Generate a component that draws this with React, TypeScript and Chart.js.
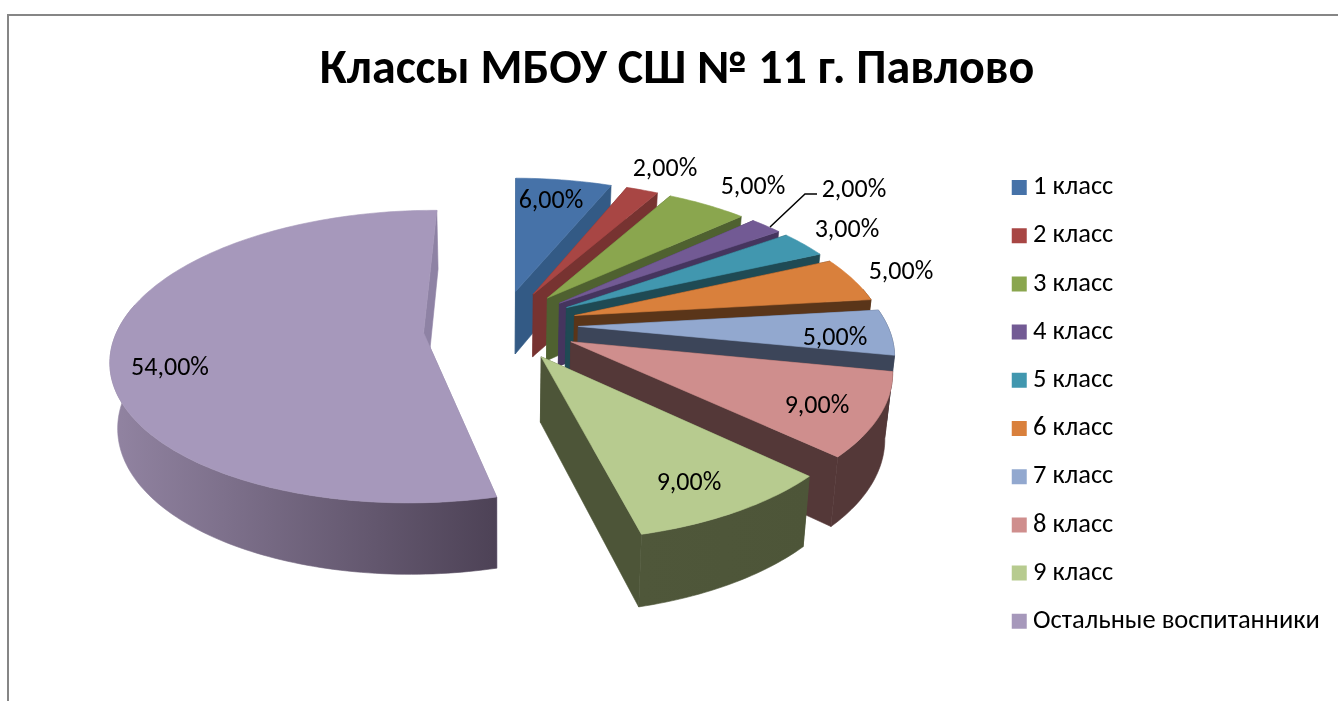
import React, { useEffect, useRef } from "react";
import { Chart, registerables } from "chart.js";

Chart.register(...registerables);

const TITLE = "Классы МБОУ СШ № 11 г. Павлово";
const categories = ["1 класс", "2 класс", "3 класс", "4 класс", "5 класс", "6 класс", "7 класс", "8 класс", "9 класс", "Остальные воспитанники"];
const shares = [6, 2, 5, 2, 3, 5, 5, 9, 9, 54];

const topColors = ["#4672A8", "#A84644", "#8AA64E", "#725A94", "#4197AF", "#D9803C", "#92A8CF", "#CF8E8D", "#B7CB8F", "#A698BB"];
const wallStart = ["#355E8C", "#773331", "#4F6130", "#45355E", "#1F4A54", "#5A3519", "#3C4559", "#543838", "#4F573A", "#9284A2"];
const wallEnd = ["#355E8C", "#773331", "#4F6130", "#45355E", "#1F4A54", "#5A3519", "#3C4559", "#543838", "#4D5538", "#4D4256"];
const radialWall = ["#335A85", "#773331", "#4F6130", "#45355E", "#1F4A54", "#5A3519", "#3C4559", "#543838", "#4D5538", "#8E82A4"];

// where each value label sits on the picture (text centre)
const labelCentres: [number, number][] = [[551, 201], [665, 169], [753, 187], [854, 190], [847, 230], [901, 272], [835, 338], [817, 406], [689, 483], [170, 368]];

// camera of the 3-D pie
const CX = 501, CY = 325, FX = 309, FY = 142, PX = 0.165, PY = 0.164;
const DEPTH = 64, EXPLODE = 0.25, SHRINK = 0.02;
const explodeDrop = [0, 0, 0, 0, 0, 0, 0, 0, 0, 0.025];
const rimScale = [1, 1, 1, 1, 1, 1, 1, 1, 1, 0.985];
const FONT = "Carlito, Lato, 'Open Sans', sans-serif";

const project = (u: number, v: number, z: number): [number, number] => {
  const x = CX + (FX * u) / (1 + PX * v);
  const y = CY - (FY * v) / (1 + PY * v);
  return [CX + (x - CX) * (1 - SHRINK * z), y + (z * DEPTH) / (1 + 0.1 * v)];
};

const pie3d = {
  id: "pie3d",
  afterLayout(chart: any) {
    const { legend, titleBlock } = chart;
    if (legend) {
      const pad = legend.options.labels.padding;
      legend.left = 1018.75 - pad;
      legend.top = 174.25 - pad;
    }
    if (titleBlock) {
      titleBlock.left += 8;
      titleBlock.right += 8;
    }
  },
  beforeDraw(chart: any) {
    const c = chart.ctx;
    c.save();
    c.fillStyle = "#ffffff";
    c.fillRect(0, 0, chart.width, chart.height);
    c.fillStyle = "#868686";
    c.fillRect(7, 14, chart.width - 7, 2);
    c.fillRect(7, 14, 2, chart.height - 14);
    c.restore();
  },
  beforeDatasetsDraw(chart: any) {
    const c = chart.ctx;
    const arcs = chart.getDatasetMeta(0).data;
    const slices = arcs.map((el: any, i: number) => {
      const a0 = el.startAngle, a1 = el.endAngle, mid = (a0 + a1) / 2;
      const ou = EXPLODE * Math.cos(mid), ov = -EXPLODE * Math.sin(mid) - explodeDrop[i];
      const n = Math.max(6, Math.ceil((a1 - a0) / 0.02));
      const rim: [number, number][] = [];
      for (let k = 0; k <= n; k++) {
        const a = a0 + ((a1 - a0) * k) / n;
        rim.push([ou + rimScale[i] * Math.cos(a), ov - rimScale[i] * Math.sin(a)]);
      }
      return { i, el, ou, ov, rim, order: -Math.sin(mid) };
    });
    slices.sort((p: any, q: any) => q.order - p.order);

    const poly = (pts: [number, number][], fill: any) => {
      c.beginPath();
      pts.forEach((p, k) => (k ? c.lineTo(p[0], p[1]) : c.moveTo(p[0], p[1])));
      c.closePath();
      c.fillStyle = fill;
      c.fill();
      c.strokeStyle = fill;
      c.lineWidth = 0.6;
      c.stroke();
    };

    c.save();
    for (const s of slices) {
      const { i, ou, ov, rim } = s;
      const first = rim[0], last = rim[rim.length - 1];
      const wall = (uv: [number, number]) => [
        project(ou, ov, 0), project(uv[0], uv[1], 0), project(uv[0], uv[1], 1), project(ou, ov, 1),
      ] as [number, number][];
      poly(wall(first), radialWall[i]);
      poly(wall(last), radialWall[i]);

      const topRim = rim.map((p: any) => project(p[0], p[1], 0));
      const lowRim = rim.map((p: any) => project(p[0], p[1], 1));
      const xs = topRim.map((p: any) => p[0]);
      const g = c.createLinearGradient(Math.min(...xs), 0, Math.max(...xs), 0);
      g.addColorStop(0, wallStart[i]);
      g.addColorStop(1, wallEnd[i]);
      // only the rim that faces the viewer shows a side
      const front: number[] = [];
      rim.forEach((p: any, k: number) => { if (p[1] - ov < 0.2) front.push(k); });
      if (front.length > 1) {
        const t = front.map((k) => topRim[k]);
        const b = front.map((k) => lowRim[k]).reverse();
        poly([...t, ...b], g);
      }
      poly([project(ou, ov, 0), ...topRim], s.el.options.backgroundColor);
    }

    // value labels
    c.font = `26px ${FONT}`;
    c.fillStyle = "#000000";
    c.textAlign = "center";
    c.textBaseline = "middle";
    shares.forEach((v, i) => {
      const [x, y] = labelCentres[i];
      c.fillText(`${v.toFixed(2).replace(".", ",")}%`, x, y);
    });
    // leader line of the narrow 4th slice
    c.strokeStyle = "#000000";
    c.lineWidth = 1.5;
    c.beginPath();
    c.moveTo(770, 227);
    c.lineTo(805, 194);
    c.lineTo(817, 194);
    c.stroke();
    c.restore();
    return false;
  },
};

export default function App() {
  const ref = useRef<HTMLCanvasElement | null>(null);
  useEffect(() => {
    const chart = new Chart(ref.current as HTMLCanvasElement, {
      type: "pie",
      data: {
        labels: categories,
        datasets: [{ data: shares, backgroundColor: topColors, borderWidth: 0 }],
      },
      options: {
        animation: false,
        responsive: false,
        rotation: 0.5,
        layout: { padding: 0 },
        plugins: {
          tooltip: { enabled: false },
          title: {
            display: true,
            text: TITLE,
            color: "#000000",
            font: { family: FONT, size: 48, weight: "bold" },
            padding: { top: 42, bottom: 10 },
          },
          legend: {
            position: "right",
            align: "start",
            labels: {
              usePointStyle: true,
              pointStyle: "rect",
              boxWidth: 1,
              boxHeight: 15,
              padding: 21.7,
              color: "#000000",
              font: { family: FONT, size: 26.5 },
            },
          },
        },
      },
      plugins: [pie3d],
    } as any);
    return () => chart.destroy();
  }, []);
  return <canvas ref={ref} width={1338} height={701} style={{ position: "fixed", left: 0, top: 0, display: "block" }} />;
}
